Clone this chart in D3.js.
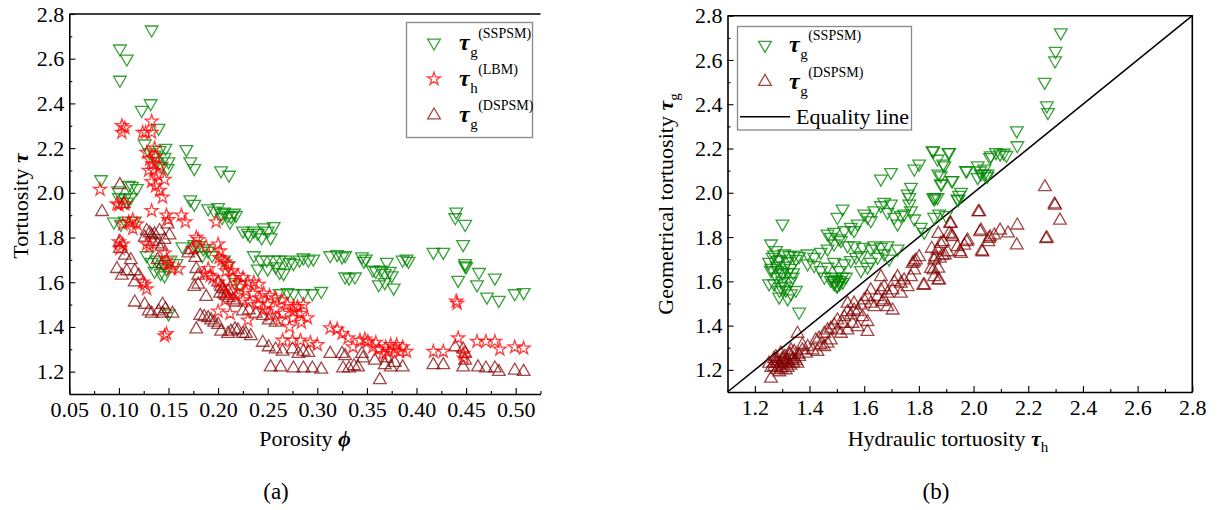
<!DOCTYPE html>
<html><head><meta charset="utf-8">
<script src="https://cdn.jsdelivr.net/npm/d3@7"></script>
<style>
body{margin:0;background:#fff}
svg{display:block}
text{font-family:"Liberation Serif","Times New Roman",serif;fill:#000}
</style>
</head><body>
<svg id="chart" width="1223" height="510"></svg>
<script>
// ---------------- DATA ----------------
// Panel (a): porosity vs tortuosity
const xTicksA = [0.05,0.10,0.15,0.20,0.25,0.30,0.35,0.40,0.45,0.50];
const xTickLabelsA = ["0.05","0.10","0.15","0.20","0.25","0.30","0.35","0.40","0.45","0.50"];
const yTicks = [1.2,1.4,1.6,1.8,2.0,2.2,2.4,2.6,2.8];
const yTickLabels = ["1.2","1.4","1.6","1.8","2.0","2.2","2.4","2.6","2.8"];
const xTicksB = [1.2,1.4,1.6,1.8,2.0,2.2,2.4,2.6,2.8];
const xTickLabelsB = ["1.2","1.4","1.6","1.8","2.0","2.2","2.4","2.6","2.8"];

// τg (SSPSM) vs porosity
const ssA = [
[0.082,2.06],[0.101,2.645],[0.108,2.60],[0.101,2.505],[0.133,2.73],[0.123,2.37],[0.132,2.40],[0.140,2.29],
[0.126,2.22],[0.131,2.18],[0.136,2.17],[0.141,2.19],[0.147,2.20],[0.146,2.16],[0.150,2.14],[0.143,2.12],[0.149,2.11],[0.138,2.14],
[0.168,2.195],[0.172,2.14],[0.176,2.11],[0.203,2.10],[0.211,2.08],
[0.099,2.01],[0.110,2.035],[0.113,2.03],[0.118,2.02],[0.100,1.98],[0.106,1.975],[0.112,1.98],[0.108,1.96],
[0.095,1.87],[0.102,1.86],[0.106,1.875],[0.116,1.875],
[0.172,1.97],[0.176,1.95],
[0.190,1.93],[0.196,1.92],[0.200,1.935],[0.203,1.91],[0.206,1.915],[0.210,1.90],[0.213,1.895],[0.216,1.91],[0.204,1.89],[0.212,1.87],[0.218,1.90],
[0.225,1.83],[0.230,1.82],[0.236,1.83],[0.240,1.82],[0.246,1.845],[0.250,1.83],[0.244,1.80],[0.253,1.80],[0.232,1.81],[0.256,1.85],
[0.236,1.72],[0.243,1.70],[0.249,1.70],[0.256,1.70],[0.262,1.70],[0.268,1.70],[0.272,1.69],[0.240,1.66],[0.250,1.66],[0.258,1.67],
[0.262,1.645],[0.266,1.64],
[0.176,1.77],[0.180,1.765],[0.185,1.75],[0.190,1.74],[0.194,1.72],[0.184,1.72],
[0.206,1.70],[0.210,1.675],[0.217,1.60],[0.222,1.59],
[0.128,1.72],[0.133,1.69],[0.138,1.70],[0.145,1.68],[0.152,1.70],[0.158,1.685],[0.136,1.65],[0.142,1.64],[0.148,1.66],[0.146,1.63],[0.164,1.76],
[0.150,1.46],
[0.262,1.55],[0.270,1.555],[0.276,1.55],[0.286,1.55],[0.295,1.55],[0.304,1.56],
[0.276,1.685],[0.282,1.70],[0.286,1.71],[0.291,1.70],[0.296,1.705],
[0.313,1.72],[0.320,1.725],[0.325,1.715],[0.328,1.72],[0.345,1.715],[0.347,1.695],[0.349,1.705],
[0.328,1.625],[0.332,1.62],[0.338,1.625],
[0.356,1.655],[0.359,1.65],[0.364,1.655],[0.370,1.69],[0.368,1.64],[0.375,1.63],[0.373,1.65],
[0.362,1.59],[0.368,1.60],[0.377,1.575],
[0.386,1.70],[0.390,1.705],[0.392,1.695],
[0.417,1.735],[0.427,1.735],
[0.440,1.915],[0.439,1.89],[0.449,1.86],[0.447,1.77],[0.449,1.685],[0.450,1.67],[0.449,1.675],[0.442,1.61],
[0.463,1.645],[0.461,1.59],[0.471,1.535],[0.479,1.62],[0.483,1.52],[0.499,1.55],[0.508,1.555]
];

// τh (LBM) vs porosity
const lbmA = [
[0.081,2.015],[0.103,2.30],[0.106,2.29],[0.103,2.27],[0.124,2.27],[0.133,2.32],[0.133,2.27],[0.127,2.27],
[0.128,2.18],[0.131,2.15],[0.134,2.13],[0.135,2.10],[0.137,2.16],[0.139,2.08],[0.141,2.12],[0.133,2.05],[0.137,2.03],[0.141,2.01],[0.144,1.98],[0.146,2.06],[0.130,2.10],[0.136,2.20],
[0.133,1.92],[0.098,1.95],[0.100,1.945],[0.106,1.95],
[0.110,1.87],[0.114,1.88],[0.118,1.86],[0.114,1.84],[0.104,1.86],
[0.148,1.90],[0.150,1.88],[0.163,1.90],[0.167,1.87],
[0.100,1.78],[0.104,1.77],[0.101,1.75],[0.128,1.77],[0.131,1.76],
[0.124,1.60],[0.126,1.59],[0.128,1.57],
[0.146,1.73],[0.148,1.70],[0.150,1.68],[0.160,1.66],[0.153,1.66],
[0.146,1.36],[0.148,1.37],
[0.178,1.80],[0.180,1.79],[0.175,1.75],[0.188,1.76],[0.190,1.66],[0.186,1.64],[0.192,1.63],
[0.198,1.87],
[0.200,1.77],[0.202,1.74],[0.201,1.71],[0.204,1.70],[0.207,1.69],[0.210,1.68],[0.214,1.65],[0.220,1.63],[0.225,1.62],[0.230,1.60],[0.236,1.60],[0.241,1.59],[0.246,1.55],[0.252,1.54],[0.258,1.53],[0.264,1.52],[0.270,1.50],[0.276,1.49],
[0.195,1.62],[0.200,1.60],[0.205,1.58],[0.214,1.56],[0.218,1.54],[0.225,1.52],[0.232,1.51],[0.240,1.50],[0.246,1.48],[0.252,1.45],[0.262,1.43],[0.272,1.40],
[0.208,1.65],[0.215,1.62],[0.222,1.58],[0.228,1.56],[0.235,1.55],[0.242,1.53],[0.250,1.50],[0.258,1.48],[0.265,1.46],[0.275,1.44],
[0.200,1.47],[0.207,1.52],[0.212,1.46],[0.230,1.43],
[0.276,1.47],[0.280,1.49],[0.286,1.50],[0.290,1.44],[0.284,1.42],[0.283,1.46],
[0.265,1.34],[0.275,1.34],[0.283,1.34],[0.293,1.33],[0.300,1.32],
[0.313,1.395],[0.320,1.39],[0.325,1.37],[0.331,1.35],[0.336,1.31],[0.343,1.34],[0.348,1.345],[0.351,1.335],
[0.356,1.31],[0.362,1.30],[0.369,1.31],[0.374,1.32],[0.378,1.30],[0.383,1.29],[0.386,1.31],[0.390,1.29],[0.366,1.28],[0.372,1.29],[0.380,1.32],[0.359,1.33],
[0.417,1.29],[0.427,1.29],[0.440,1.515],[0.441,1.505],[0.442,1.35],[0.447,1.28],[0.448,1.26],[0.461,1.335],[0.470,1.335],[0.479,1.335],[0.484,1.30],[0.499,1.31],[0.508,1.305]
];

// τg (DSPSM) vs porosity
const dsA = [
[0.083,1.915],[0.101,2.035],[0.105,1.95],
[0.101,1.78],[0.101,1.75],[0.098,1.66],[0.103,1.63],[0.108,1.65],[0.112,1.70],[0.116,1.65],[0.120,1.63],[0.116,1.60],[0.106,1.72],
[0.116,1.51],[0.126,1.50],[0.130,1.47],[0.133,1.46],[0.140,1.47],[0.144,1.50],[0.147,1.48],[0.144,1.46],[0.154,1.46],
[0.128,1.83],[0.131,1.82],[0.133,1.81],[0.136,1.815],[0.126,1.80],[0.134,1.78],[0.139,1.77],[0.143,1.76],[0.146,1.79],[0.151,1.81],[0.149,1.86],[0.141,1.83],
[0.139,1.70],[0.144,1.68],
[0.170,1.73],[0.173,1.745],[0.177,1.71],[0.178,1.66],[0.180,1.63],[0.180,1.59],[0.176,1.58],
[0.188,1.535],
[0.182,1.45],[0.186,1.445],[0.190,1.44],[0.193,1.43],[0.196,1.42],[0.200,1.41],[0.178,1.39],
[0.200,1.60],[0.203,1.58],[0.202,1.55],[0.206,1.55],[0.208,1.54],[0.211,1.53],[0.215,1.52],[0.218,1.51],[0.205,1.57],[0.210,1.56],
[0.203,1.38],[0.210,1.37],[0.213,1.38],[0.217,1.39],[0.220,1.385],[0.225,1.37],[0.228,1.37],[0.233,1.36],
[0.225,1.47],[0.231,1.475],[0.238,1.46],[0.245,1.45],[0.251,1.43],[0.258,1.42],
[0.245,1.33],[0.251,1.31],[0.258,1.30],[0.265,1.29],[0.275,1.30],[0.281,1.28],[0.286,1.29],[0.291,1.285],
[0.253,1.22],[0.263,1.22],[0.276,1.215],[0.286,1.215],[0.295,1.215],[0.304,1.21],
[0.313,1.28],[0.325,1.28],[0.328,1.27],[0.326,1.215],[0.332,1.215],[0.337,1.225],
[0.345,1.28],[0.346,1.26],[0.341,1.22],[0.358,1.25],[0.363,1.163],[0.368,1.23],[0.370,1.26],[0.378,1.24],[0.386,1.22],[0.374,1.22],
[0.417,1.23],[0.427,1.23],[0.439,1.31],[0.447,1.30],[0.449,1.28],[0.449,1.25],[0.447,1.22],[0.462,1.22],[0.470,1.215],[0.479,1.215],[0.483,1.20],[0.499,1.205],[0.508,1.20]
];

// Panel (b): hydraulic tortuosity vs geometrical tortuosity
const ssB = [
[2.319,2.724],[2.30,2.64],[2.298,2.597],[2.26,2.50],[2.272,2.364],[2.268,2.394],[2.158,2.281],[2.16,2.214],
[2.097,2.176],[2.11,2.18],[2.12,2.17],[2.06,2.16],[2.024,2.10],[2.04,2.085],[2.05,2.075],[2.015,2.07],[1.975,2.10],[1.947,1.99],[1.944,1.97],
[1.853,2.19],[1.908,2.183],[1.889,2.131],[1.871,2.086],[1.883,2.041],[1.92,2.056],[1.853,1.98],[1.86,1.98],
[1.301,1.86],[1.259,1.77],[1.277,1.74],[1.265,1.71],[1.252,1.687],[1.283,1.695],[1.307,1.725],[1.326,1.717],[1.344,1.72],[1.362,1.713],
[1.259,1.65],[1.283,1.65],[1.301,1.635],[1.32,1.642],[1.338,1.62],[1.252,1.59],[1.27,1.59],[1.295,1.575],[1.313,1.56],[1.332,1.545],[1.35,1.56],
[1.289,1.53],[1.32,1.522],[1.362,1.462],
[1.26,1.66],[1.28,1.62],[1.30,1.60],[1.31,1.67],[1.29,1.70],[1.32,1.69],[1.33,1.66],[1.30,1.64],[1.27,1.72],[1.31,1.58],[1.29,1.56],[1.33,1.60],[1.34,1.64],[1.35,1.70],[1.28,1.67],
[1.393,1.725],[1.417,1.71],[1.441,1.732],[1.466,1.747],[1.49,1.77],[1.393,1.68],[1.417,1.672],[1.441,1.65],[1.466,1.665],[1.49,1.687],
[1.454,1.62],[1.478,1.605],[1.49,1.59],[1.502,1.582],[1.521,1.597],[1.533,1.62],[1.509,1.65],[1.527,1.68],[1.551,1.695],[1.57,1.71],[1.588,1.717],
[1.49,1.60],[1.50,1.61],[1.51,1.59],[1.50,1.58],[1.52,1.62],[1.48,1.62],[1.51,1.605],
[1.588,1.65],[1.612,1.665],[1.624,1.687],[1.649,1.71],[1.673,1.725],[1.691,1.702],[1.722,1.747],[1.637,1.762],[1.661,1.755],[1.685,1.762],
[1.624,1.747],[1.594,1.755],[1.563,1.762],[1.539,1.762],[1.515,1.785],[1.478,1.80],[1.466,1.815],[1.49,1.823],[1.509,1.793],[1.527,1.83],
[1.551,1.845],[1.576,1.86],[1.563,1.83],[1.502,1.89],[1.521,1.928],[1.60,1.905],[1.612,1.89],[1.624,1.875],[1.637,1.92],[1.661,1.943],
[1.673,1.958],[1.698,1.95],[1.685,1.913],[1.71,1.89],[1.722,1.86],[1.734,1.898],[1.746,1.905],[1.771,1.92],[1.765,1.95],[1.765,1.98],
[1.771,2.026],[1.783,1.883],[1.807,1.845],[1.82,1.823],[1.856,1.89],[1.874,1.905],[1.899,1.898],[1.661,2.063],[1.698,2.093],[1.783,2.108],
[1.801,2.131],[1.85,2.191],[1.868,2.153],[1.893,2.123],[1.911,2.183],[1.88,2.078],[1.88,2.041],[1.923,2.056],[1.954,2.003],[1.972,2.101],
[2.015,2.123],[2.027,2.086],[2.039,2.108],[2.051,2.086],[2.063,2.168],[2.082,2.183],[1.856,1.973],[1.868,1.98],[1.941,1.973],[1.759,1.995]
];

const dsB = [
[1.259,1.161],[1.252,1.229],[1.271,1.214],[1.283,1.229],[1.301,1.244],[1.32,1.229],[1.338,1.244],[1.356,1.229],[1.295,1.206],[1.313,1.199],
[1.277,1.259],[1.295,1.274],[1.326,1.267],[1.344,1.282],[1.362,1.259],[1.374,1.289],[1.387,1.274],[1.393,1.304],[1.411,1.289],[1.429,1.282],
[1.26,1.21],[1.27,1.23],[1.28,1.20],[1.29,1.22],[1.30,1.21],[1.31,1.235],[1.30,1.25],[1.32,1.21],[1.33,1.22],[1.34,1.25],
[1.35,1.24],[1.29,1.19],[1.27,1.25],[1.31,1.26],[1.33,1.27],[1.36,1.27],[1.28,1.24],[1.30,1.23],[1.32,1.24],[1.34,1.23],
[1.441,1.312],[1.454,1.304],[1.466,1.319],[1.478,1.334],[1.423,1.334],[1.435,1.342],[1.454,1.364],[1.466,1.379],[1.478,1.387],[1.49,1.402],
[1.502,1.379],[1.515,1.364],[1.521,1.409],[1.502,1.424],[1.527,1.439],[1.539,1.462],[1.551,1.447],[1.563,1.469],[1.576,1.462],[1.588,1.492],
[1.60,1.515],[1.612,1.53],[1.624,1.50],[1.637,1.484],[1.594,1.439],[1.612,1.417],[1.612,1.372],[1.576,1.394],[1.557,1.409],[1.539,1.379],
[1.649,1.53],[1.661,1.56],[1.673,1.575],[1.685,1.545],[1.704,1.56],[1.71,1.597],[1.722,1.62],[1.734,1.59],[1.746,1.605],[1.661,1.62],
[1.667,1.507],[1.685,1.484],[1.704,1.469],[1.734,1.545],[1.759,1.575],[1.771,1.62],[1.783,1.65],[1.777,1.68],[1.789,1.695],[1.801,1.71],
[1.783,1.687],[1.82,1.582],[1.844,1.657],[1.856,1.695],[1.868,1.74],[1.88,1.77],[1.856,1.62],[1.874,1.605],[1.887,1.717],[1.905,1.732],
[1.911,1.815],[1.917,1.86],[1.923,1.80],[1.941,1.755],[1.954,1.725],[1.978,1.785],[1.966,1.762],[2.027,1.83],[2.033,1.732],[2.057,1.793],
[2.076,1.808],[2.021,1.913],[1.356,1.364],[1.374,1.312],[1.332,1.289],[1.539,1.50],[1.563,1.50],[1.624,1.56],[1.673,1.515],
[2.017,1.913],[1.914,1.861],[2.024,1.823],[2.06,1.80],[2.097,1.83],[2.126,1.817],[2.16,1.853],[2.158,1.763],[2.03,1.736],[2.054,1.778],
[1.975,1.778],[1.95,1.733],[1.92,1.808],[1.889,1.778],[1.871,1.815],[1.847,1.748],[1.859,1.71],[1.877,1.703],[1.895,1.718],[1.871,1.658],
[1.853,1.65],[1.871,1.605],[1.816,1.582],[2.265,1.792],[2.268,1.795],[2.298,1.943],[2.296,1.948],[2.316,1.875],[2.261,2.026]
];

const equalityLine = [[1.1,1.1],[2.8,2.8]];

// ---------------- DRAWING ----------------
const svg = d3.select("#chart");
const GREEN = "rgb(0,135,0)", RED = "rgb(255,0,0)", DARK = "rgb(128,0,0)";
const FONT = '"Liberation Serif","Times New Roman",serif';

const xA = d3.scaleLinear().domain([0.05,0.525]).range([69.3,540.5]);
const yA = d3.scaleLinear().domain([1.1,2.8]).range([394,14]);
const xB = d3.scaleLinear().domain([1.1,2.8]).range([727.5,1192.3]);
const yB = d3.scaleLinear().domain([1.1,2.8]).range([392,15.7]);

const triSym = d3.symbol().type(d3.symbolTriangle).size(70);
const starSym = d3.symbol().type(d3.symbolStar).size(52);

function axes(x, y, xt, xl, xMinor, yMinor) {
  const g = svg.append("g");
  const y0 = y.range()[0];
  const x0 = x.range()[0];
  const bx = g.append("g").attr("transform", `translate(0,${y0})`)
    .call(d3.axisBottom(x).tickValues(xt).tickFormat((d,i)=>xl[i]).tickSize(-6).tickSizeOuter(0).tickPadding(7));
  const bxm = g.append("g").attr("transform", `translate(0,${y0})`)
    .call(d3.axisBottom(x).tickValues(xMinor).tickFormat("").tickSize(-3).tickSizeOuter(0));
  const ly = g.append("g").attr("transform", `translate(${x0},0)`)
    .call(d3.axisLeft(y).tickValues(yTicks).tickFormat((d,i)=>yTickLabels[i]).tickSize(-6).tickSizeOuter(0).tickPadding(5));
  const lym = g.append("g").attr("transform", `translate(${x0},0)`)
    .call(d3.axisLeft(y).tickValues(yMinor).tickFormat("").tickSize(-3).tickSizeOuter(0));
  [bxm, lym].forEach(a => a.select(".domain").remove());
  [bx, ly, bxm, lym].forEach(a => {
    a.attr("font-family", FONT).attr("font-size", 22);
    a.selectAll(".domain").attr("stroke", "#000").attr("stroke-width", 1.6);
    a.selectAll(".tick line").attr("stroke", "#000").attr("stroke-width", 1.1);
    a.selectAll(".tick text").attr("fill", "#111");
  });
  return g;
}

const yMinor = [1.3,1.5,1.7,1.9,2.1,2.3,2.5,2.7];
axes(xA, yA, xTicksA, xTickLabelsA, [0.075,0.125,0.175,0.225,0.275,0.325,0.375,0.425,0.475,0.525], yMinor);
axes(xB, yB, xTicksB, xTickLabelsB, [1.3,1.5,1.7,1.9,2.1,2.3,2.5,2.7], yMinor);

// frame lines
svg.append("line").attr("x1", xA.range()[0]).attr("x2", xA.range()[1]).attr("y1", yA.range()[1]).attr("y2", yA.range()[1])
  .attr("stroke", "#000").attr("stroke-width", 1.6);
svg.append("path").attr("d", `M${xB.range()[0]},${yB.range()[1]}H${xB.range()[1]}V${yB.range()[0]}`)
  .attr("fill", "none").attr("stroke", "#000").attr("stroke-width", 1.6);

function scatter(data, x, y, sym, rot, color, op) {
  svg.append("g").selectAll("path").data(data).join("path")
    .attr("d", sym)
    .attr("transform", d => `translate(${x(d[0])},${y(d[1])}) rotate(${rot})`)
    .attr("fill", "none").attr("stroke", color).attr("stroke-width", 1.3).attr("stroke-opacity", op);
}

// panel a
scatter(ssA, xA, yA, triSym, 180, GREEN, 0.78);
scatter(dsA, xA, yA, triSym, 0, DARK, 0.72);
scatter(lbmA, xA, yA, starSym, 0, RED, 0.75);

// panel b
svg.append("path").datum(equalityLine)
  .attr("d", d3.line().x(d => xB(d[0])).y(d => yB(d[1])))
  .attr("stroke", "#000").attr("stroke-width", 1.5).attr("fill", "none");
scatter(ssB, xB, yB, triSym, 180, GREEN, 0.78);
scatter(dsB, xB, yB, triSym, 0, DARK, 0.72);

// -------- labels helper: one text element per legend label --------
function tauLabel(g, x, yc, sub, sup) {
  const t = g.append("text").attr("x", x).attr("y", yc + 7);
  t.append("tspan").attr("font-size", 24).attr("font-weight", "bold").attr("font-style", "italic").text("τ");
  t.append("tspan").attr("font-size", 15).attr("dx", 0.5).attr("dy", 7).text(sub);
  t.append("tspan").attr("font-size", 14).attr("dx", 0.5).attr("dy", -19).text(sup);
}

// legend a
const la = svg.append("g");
la.append("rect").attr("x", 406.5).attr("y", 22.5).attr("width", 126).attr("height", 115)
  .attr("fill", "#fff").attr("stroke", "#888").attr("stroke-width", 1.3);
const legA = [
  {sym: triSym, rot: 180, color: GREEN, op: 0.78, sub: "g", sup: "(SSPSM)"},
  {sym: starSym, rot: 0, color: RED, op: 0.75, sub: "h", sup: "(LBM)"},
  {sym: triSym, rot: 0, color: DARK, op: 0.72, sub: "g", sup: "(DSPSM)"}
];
legA.forEach((e, i) => {
  const yc = 42.7 + i * 36.3;
  la.append("path").attr("d", e.sym).attr("transform", `translate(434,${yc}) rotate(${e.rot})`)
    .attr("fill", "none").attr("stroke", e.color).attr("stroke-width", 1.3).attr("stroke-opacity", e.op);
  tauLabel(la, 459, yc, e.sub, e.sup);
});

// legend b
const lb = svg.append("g");
lb.append("rect").attr("x", 737.5).attr("y", 26.5).attr("width", 174).attr("height", 103.5)
  .attr("fill", "#fff").attr("stroke", "#888").attr("stroke-width", 1.3);
const legB = [
  {sym: triSym, rot: 180, color: GREEN, op: 0.78, sub: "g", sup: "(SSPSM)"},
  {sym: triSym, rot: 0, color: DARK, op: 0.72, sub: "g", sup: "(DSPSM)"}
];
legB.forEach((e, i) => {
  const yc = 45 + i * 36.7;
  lb.append("path").attr("d", e.sym).attr("transform", `translate(765,${yc}) rotate(${e.rot})`)
    .attr("fill", "none").attr("stroke", e.color).attr("stroke-width", 1.3).attr("stroke-opacity", e.op);
  tauLabel(lb, 789, yc, e.sub, e.sup);
});
lb.append("line").attr("x1", 740).attr("x2", 790).attr("y1", 116.7).attr("y2", 116.7)
  .attr("stroke", "#000").attr("stroke-width", 1.5);
lb.append("text").attr("x", 796).attr("y", 124).attr("font-size", 22).text("Equality line");

// axis titles
const tA = svg.append("text").attr("x", 305).attr("y", 446).attr("font-size", 22).attr("text-anchor", "middle");
tA.append("tspan").text("Porosity ");
tA.append("tspan").attr("font-weight", "bold").attr("font-style", "italic").text("ϕ");

const tB = svg.append("text").attr("x", 948).attr("y", 446).attr("font-size", 22).attr("text-anchor", "middle");
tB.append("tspan").text("Hydraulic tortuosity ");
tB.append("tspan").attr("font-weight", "bold").attr("font-style", "italic").text("τ");
tB.append("tspan").attr("font-size", 15).attr("dy", 6).text("h");

const tyA = svg.append("text").attr("transform", "translate(28,206) rotate(-90)").attr("font-size", 22).attr("text-anchor", "middle");
tyA.append("tspan").text("Tortuosity ");
tyA.append("tspan").attr("font-weight", "bold").attr("font-style", "italic").text("τ");

const tyB = svg.append("text").attr("transform", "translate(673,204) rotate(-90)").attr("font-size", 22).attr("text-anchor", "middle");
tyB.append("tspan").text("Geometrical tortuosity ");
tyB.append("tspan").attr("font-weight", "bold").attr("font-style", "italic").text("τ");
tyB.append("tspan").attr("font-size", 15).attr("dy", 6).text("g");

svg.append("text").attr("x", 276).attr("y", 499).attr("font-size", 23).attr("text-anchor", "middle").text("(a)");
svg.append("text").attr("x", 936).attr("y", 499).attr("font-size", 23).attr("text-anchor", "middle").text("(b)");
</script>
</body></html>
